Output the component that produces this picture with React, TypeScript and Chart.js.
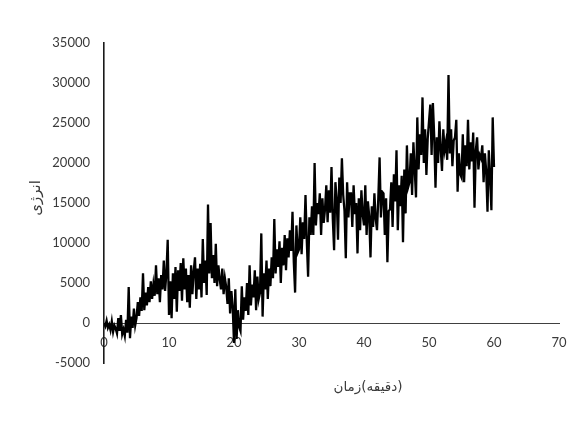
import { useEffect, useRef } from "react";
import { Chart, registerables } from "chart.js";

Chart.register(...registerables);

// time sampling (minutes)
const sampleStepMinutes = 0.2;

// energy readings, 5 samples per minute
const energy00to10 = [
  0, -400, 300, -600, -200,
  -900, 200, -1100, -300, -700,
  -1300, 600, -1000, 1000, -1400,
  -800, -1600, 400, -1200, 4500,
  -1900, 800, -600, 1800, -300,
  600, 2600, 900, 3200, 1500,
  6200, 1600, 3800, 2200, 4500,
  2600, 5200, 3000, 4800, 3400,
  7200, 3600, 5600, 2600, 6000,
  4200, 7800, 4000, 6200, 10400,
];
const energy10to20 = [
  1000, 5200, 600, 6200, 3000,
  7000, 1400, 6600, 4000, 7500,
  2800, 8100, 4200, 6800, 2600,
  6000, 1900, 7200, 3600, 6500,
  8200, 3000, 6800, 4200, 7400,
  3200, 10500, 5000, 7800, 3500,
  14800, 6200, 12500, 5600, 8500,
  5000, 9900, 4600, 7200, 5500,
  4200, 6800, 3600, 5600, 4500,
  2400, 5600, 1200, 4000, 2000,
];
const energy20to30 = [
  -2500, 4200, -2000, 1600, -500,
  -1000, 4600, 400, 3200, 1500,
  5000, 1000, 7200, 2200, 4800,
  3200, 6600, 1600, 5800, 3000,
  3800, 11200, 800, 6200, 4200,
  7800, 3000, 6800, 4600, 8200,
  5600, 13000, 6200, 9200, 7000,
  10200, 5000, 9400, 7200, 11000,
  6600, 10600, 8200, 11600, 9000,
  13900, 7600, 3800, 12200, 8800,
];
const energy30to40 = [
  9200, 13200, 8600, 12600, 10500,
  16000, 10200, 5800, 13200, 11000,
  14600, 11000, 20000, 12200, 15000,
  13600, 16200, 11000, 15600, 12500,
  14200, 17200, 12600, 16600, 13800,
  19500, 13000, 9100, 17600, 15500,
  10400, 18200, 15000, 20600, 16000,
  14000, 8100, 17600, 13200, 16200,
  16200, 12000, 17200, 13600, 15000,
  8700, 15600, 11600, 16600, 13500,
];
const energy40to50 = [
  12200, 17200, 11000, 15200, 13400,
  8200, 14600, 12000, 16200, 13000,
  11600, 15600, 20700, 13200, 16400,
  16200, 11000, 15600, 7600, 14000,
  14200, 17600, 12000, 18600, 15200,
  21600, 11600, 17200, 14600, 18400,
  10100, 19200, 13700, 22200, 17000,
  17600, 21200, 16000, 22600, 19200,
  15700, 25700, 19200, 23600, 21000,
  28200, 20000, 24200, 18500, 23000,
];
const energy50to60 = [
  25200, 27300, 21000, 27500, 23400,
  16900, 23200, 20000, 25200, 21800,
  19000, 24200, 21600, 22600, 20400,
  31000, 21200, 24200, 19600, 22800,
  23200, 25400, 16400, 21200, 18600,
  18200, 23600, 17600, 22200, 19600,
  25400, 19200, 22600, 20200, 23800,
  14400, 21600, 23200, 19200, 21000,
  20600, 22200, 17600, 21200, 19000,
  13900, 21600, 18200, 14100, 25700,
  19500,
];

const energyValues = [
  ...energy00to10,
  ...energy10to20,
  ...energy20to30,
  ...energy30to40,
  ...energy40to50,
  ...energy50to60,
];
const timeMinutes = energyValues.map((_, i) => Math.round(i * sampleStepMinutes * 10) / 10);

const xAxisMin = 0;
const xAxisMax = 70;
const xAxisStep = 10;
const yAxisMin = -5000;
const yAxisMax = 35000;
const yAxisStep = 5000;

// x-axis title "زمان(دقیقه)" drawn in pieces so bidi keeps the reference's visual order
const xAxisTitleParts = ["زمان", "(", "دقیقه", ")"];
const yAxisTitle = "انرژی";

const TEXT_COLOR = "#3a3a3a";
const TICK_FONT = { family: "Lato, 'DejaVu Sans', sans-serif", size: 13 };

const axisTitlesPlugin = {
  id: "axisTitles",
  afterDraw(chart: any) {
    const { ctx, chartArea } = chart;
    ctx.save();
    ctx.fillStyle = TEXT_COLOR;
    ctx.direction = "ltr";
    ctx.textBaseline = "middle";
    ctx.font = "13.5px 'DejaVu Sans', sans-serif";
    const widths = xAxisTitleParts.map((p) => ctx.measureText(p).width);
    const total = widths.reduce((a, b) => a + b, 0);
    let x = chartArea.left + 264 - total / 2;
    const y = chartArea.bottom + 24;
    ctx.textAlign = "left";
    xAxisTitleParts.forEach((p, i) => {
      ctx.fillText(p, x, y);
      x += widths[i];
    });
    ctx.font = "15px 'DejaVu Sans', sans-serif";
    ctx.textAlign = "center";
    ctx.translate(chartArea.left - 68, chartArea.top + 155);
    ctx.rotate(-Math.PI / 2);
    ctx.fillText(yAxisTitle, 0, 0);
    ctx.restore();
  },
};

export default function App() {
  const canvasRef = useRef<HTMLCanvasElement | null>(null);

  useEffect(() => {
    if (!canvasRef.current) return;
    const chart = new Chart(canvasRef.current, {
      type: "line",
      data: {
        datasets: [
          {
            data: timeMinutes.map((t, i) => ({ x: t, y: energyValues[i] })),
            borderColor: "#000000",
            borderWidth: 2.3,
            pointRadius: 0,
            tension: 0,
            fill: false,
          },
        ],
      },
      options: {
        responsive: false,
        animation: false,
        layout: { padding: { left: 0, right: 22, top: 43, bottom: 58 } },
        plugins: {
          legend: { display: false },
          tooltip: { enabled: false },
          title: { display: false },
        },
        scales: {
          x: {
            type: "linear",
            position: { y: 0 } as any,
            min: xAxisMin,
            max: xAxisMax,
            grid: { display: false, drawTicks: false },
            border: { display: true, color: "#404040", width: 1 },
            ticks: {
              stepSize: xAxisStep,
              padding: 12,
              color: TEXT_COLOR,
              font: TICK_FONT,
              maxRotation: 0,
              callback: (v: any) => String(v),
            },
          },
          y: {
            type: "linear",
            position: "left",
            min: yAxisMin,
            max: yAxisMax,
            afterFit: (s: any) => {
              s.width = 104;
            },
            grid: { display: false, drawTicks: false },
            border: { display: true, color: "#1a1a1a", width: 1.6 },
            ticks: {
              stepSize: yAxisStep,
              padding: 14,
              color: TEXT_COLOR,
              font: TICK_FONT,
              callback: (v: any) => String(v),
            },
          },
        },
      },
      plugins: [axisTitlesPlugin],
    });
    return () => chart.destroy();
  }, []);

  return (
    <div
      style={{
        position: "fixed",
        left: 0,
        top: 0,
        width: 581,
        height: 421,
        background: "#ffffff",
      }}
    >
      <canvas ref={canvasRef} width={581} height={421} style={{ width: 581, height: 421, display: "block" }} />
    </div>
  );
}
